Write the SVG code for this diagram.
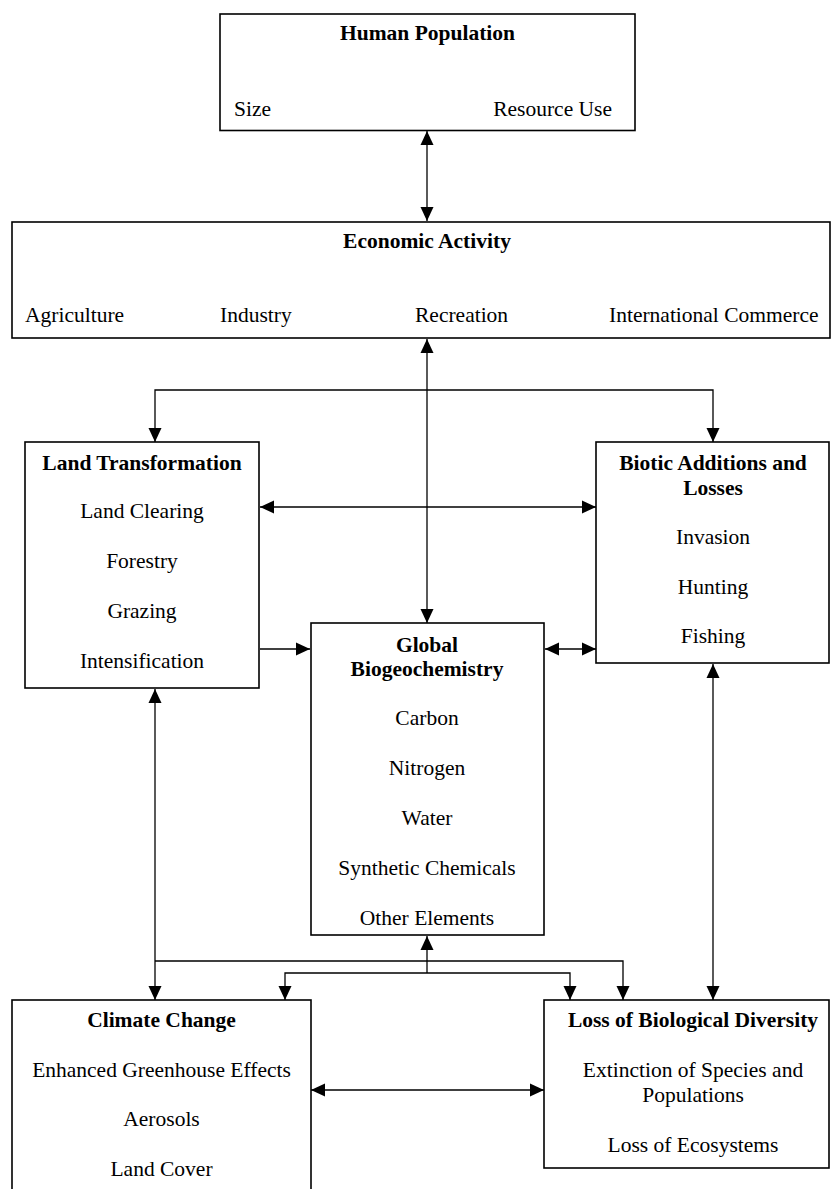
<svg xmlns="http://www.w3.org/2000/svg" width="831" height="1189" viewBox="0 0 831 1189">
<style>
.box{fill:#fff;stroke:#000;stroke-width:1.6}
text{font-family:"Liberation Serif","Times New Roman",serif;font-size:21.5px;fill:#000}
.t{font-weight:bold}
.c{text-anchor:middle}
.ln{fill:none;stroke:#000;stroke-width:1.3}
</style>
<defs>
<marker id="ah" viewBox="0 0 14 14" refX="14" refY="7" markerWidth="14" markerHeight="14" markerUnits="userSpaceOnUse" orient="auto-start-reverse">
<path d="M0,0.5 L14,7 L0,13.5 Z" fill="#000"/>
</marker>
</defs>
<rect width="831" height="1189" fill="#fff"/>
<g id="connectors">
<line class="ln" x1="427" y1="131" x2="427" y2="221" marker-start="url(#ah)" marker-end="url(#ah)"/>
<line class="ln" x1="427" y1="339" x2="427" y2="623" marker-start="url(#ah)" marker-end="url(#ah)"/>
<path class="ln" d="M155,442 V390 H713 V442" marker-start="url(#ah)" marker-end="url(#ah)"/>
<line class="ln" x1="260" y1="507" x2="596" y2="507" marker-start="url(#ah)" marker-end="url(#ah)"/>
<line class="ln" x1="260" y1="649" x2="310" y2="649" marker-end="url(#ah)"/>
<line class="ln" x1="545" y1="649" x2="596" y2="649" marker-start="url(#ah)" marker-end="url(#ah)"/>
<line class="ln" x1="155" y1="689" x2="155" y2="1000" marker-start="url(#ah)" marker-end="url(#ah)"/>
<path class="ln" d="M155,961 H623 V1000" marker-end="url(#ah)"/>
<line class="ln" x1="427" y1="973" x2="427" y2="936" marker-end="url(#ah)"/>
<path class="ln" d="M285,1000 V973 H570 V1000" marker-start="url(#ah)" marker-end="url(#ah)"/>
<line class="ln" x1="713" y1="664" x2="713" y2="1000" marker-start="url(#ah)" marker-end="url(#ah)"/>
<line class="ln" x1="311" y1="1090" x2="544" y2="1090" marker-start="url(#ah)" marker-end="url(#ah)"/>
</g>
<g id="human-population">
<rect class="box" x="220" y="14" width="415" height="116.5"/>
<text class="t c" x="427.5" y="40">Human Population</text>
<text x="234" y="116">Size</text>
<text x="612" y="116" text-anchor="end">Resource Use</text>
</g>
<g id="economic-activity">
<rect class="box" x="12" y="222" width="818" height="116"/>
<text class="t c" x="427" y="248">Economic Activity</text>
<text x="25" y="322">Agriculture</text>
<text x="220" y="322">Industry</text>
<text x="415" y="322">Recreation</text>
<text x="609" y="322">International Commerce</text>
</g>
<g id="land-transformation">
<rect class="box" x="25" y="442" width="234" height="246"/>
<text class="t c" x="142" y="470">Land Transformation</text>
<text class="c" x="142" y="518">Land Clearing</text>
<text class="c" x="142" y="568">Forestry</text>
<text class="c" x="142" y="618">Grazing</text>
<text class="c" x="142" y="668">Intensification</text>
</g>
<g id="biotic-additions">
<rect class="box" x="596" y="442" width="233" height="221"/>
<text class="t c" x="713" y="470">Biotic Additions and</text>
<text class="t c" x="713" y="495">Losses</text>
<text class="c" x="713" y="544">Invasion</text>
<text class="c" x="713" y="594">Hunting</text>
<text class="c" x="713" y="643">Fishing</text>
</g>
<g id="global-biogeochemistry">
<rect class="box" x="311" y="623" width="233" height="312"/>
<text class="t c" x="427" y="652">Global</text>
<text class="t c" x="427" y="676">Biogeochemistry</text>
<text class="c" x="427" y="725">Carbon</text>
<text class="c" x="427" y="775">Nitrogen</text>
<text class="c" x="427" y="825">Water</text>
<text class="c" x="427" y="875">Synthetic Chemicals</text>
<text class="c" x="427" y="925">Other Elements</text>
</g>
<g id="climate-change">
<rect class="box" x="12" y="1000" width="299" height="200"/>
<text class="t c" x="161.5" y="1027">Climate Change</text>
<text class="c" x="161.5" y="1077">Enhanced Greenhouse Effects</text>
<text class="c" x="161.5" y="1126">Aerosols</text>
<text class="c" x="161.5" y="1176">Land Cover</text>
</g>
<g id="loss-biodiversity">
<rect class="box" x="544" y="1000" width="285" height="168"/>
<text class="t c" x="693" y="1027">Loss of Biological Diversity</text>
<text class="c" x="693" y="1077">Extinction of Species and</text>
<text class="c" x="693" y="1102">Populations</text>
<text class="c" x="693" y="1152">Loss of Ecosystems</text>
</g>
</svg>
